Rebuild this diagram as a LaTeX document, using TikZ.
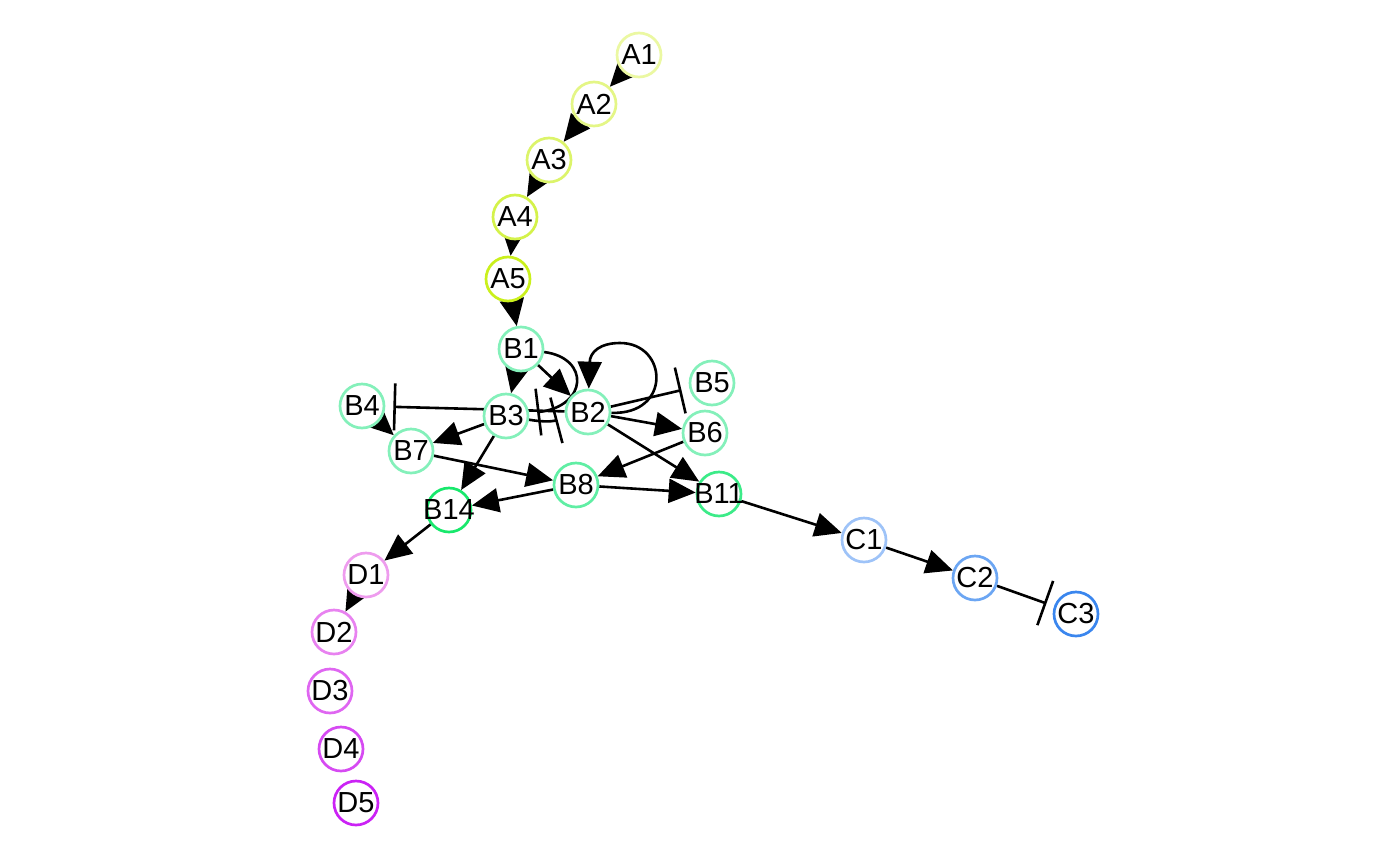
\documentclass[tikz,border=0pt]{standalone}
\usepackage{fontspec}
\setmainfont{Liberation Sans}
\usetikzlibrary{arrows.meta,backgrounds}

\definecolor{cA1}{HTML}{EBF8A2}
\definecolor{cA2}{HTML}{E4F686}
\definecolor{cA3}{HTML}{DCF46A}
\definecolor{cA4}{HTML}{D4F24A}
\definecolor{cA5}{HTML}{CAF01C}
\definecolor{cB}{HTML}{84F0BA}
\definecolor{cB8}{HTML}{60EEA4}
\definecolor{cB11}{HTML}{3CEB88}
\definecolor{cB14}{HTML}{18E86C}
\definecolor{cC1}{HTML}{9EC3F8}
\definecolor{cC2}{HTML}{6CA6F3}
\definecolor{cC3}{HTML}{3A86EE}
\definecolor{cD1}{HTML}{EE9CEE}
\definecolor{cD2}{HTML}{E882F0}
\definecolor{cD3}{HTML}{DF66F1}
\definecolor{cD4}{HTML}{D64AF2}
\definecolor{cD5}{HTML}{CB22F5}

\tikzset{
  gene/.style={circle, draw=#1, fill=white, line width=2.7pt,
    minimum size=44pt, inner sep=0pt},
  every label/.style={font=\fontsize{29}{31}\selectfont, inner sep=0pt},
  act/.style={line width=2.6pt, -{Triangle[length=27pt,width=24pt]}},
  inh/.style={line width=2.6pt, -{Bar[width=47pt]}, shorten >=8pt},
}

\begin{document}
\begin{tikzpicture}[x=1pt,y=-1pt]
  \useasboundingbox (0,0) rectangle (1400,865);

  % module A
  \node[gene=cA1, label=center:A1] (A1) at (639,55) {};
  \node[gene=cA2, label=center:A2] (A2) at (594,104) {};
  \node[gene=cA3, label=center:A3] (A3) at (549,160) {};
  \node[gene=cA4, label=center:A4] (A4) at (515,217) {};
  \node[gene=cA5, label=center:A5] (A5) at (508,279) {};

  % module B
  \node[gene=cB, label=center:B1] (B1) at (521,349) {};
  \node[gene=cB, label=center:B2] (B2) at (588,412) {};
  \node[gene=cB, label=center:B3] (B3) at (506,416) {};
  \node[gene=cB, label=center:B4] (B4) at (362,406) {};
  \node[gene=cB, label=center:B5] (B5) at (712,383) {};
  \node[gene=cB, label=center:B6] (B6) at (705,433) {};
  \node[gene=cB, label=center:B7] (B7) at (411,451) {};
  \node[gene=cB8, label=center:B8] (B8) at (576,485) {};
  \node[gene=cB11, label=center:B11] (B11) at (719,494) {};
  \node[gene=cB14, label=center:B14] (B14) at (449,510) {};

  % module C
  \node[gene=cC1, label=center:C1] (C1) at (864,540) {};
  \node[gene=cC2, label=center:C2] (C2) at (975,578) {};
  \node[gene=cC3, label=center:C3] (C3) at (1076,614) {};

  % module D
  \node[gene=cD1, label=center:D1] (D1) at (366,575) {};
  \node[gene=cD2, label=center:D2] (D2) at (334,632) {};
  \node[gene=cD3, label=center:D3] (D3) at (330,691) {};
  \node[gene=cD4, label=center:D4] (D4) at (341,749) {};
  \node[gene=cD5, label=center:D5] (D5) at (356,803) {};

  \begin{pgfonlayer}{background}
    \draw[act] (A1) -- (A2);
    \draw[act] (A2) -- (A3);
    \draw[act] (A3) -- (A4);
    \draw[act] (A4) -- (A5);
    \draw[act] (A5) -- (B1);

    \draw[act] (B1) -- (B2);
    \draw[act] (B1) -- (B3);
    \draw[inh] (B1) .. controls (590,358) and (588,406) .. (B3);
    \draw[inh] (B3) to[bend right=12] (B2);
    \draw[act] (B2) .. controls (672,415) and (668,343) .. (620,343)
                    .. controls (600,343) and (590,352) .. (B2);
    \draw[inh] (B2) -- (B4);
    \draw[inh] (B2) -- (B5);
    \draw[act] (B2) -- (B6);
    \draw[act] (B2) -- (B11);
    \draw[act] (B3) -- (B7);
    \draw[act] (B3) -- (B14);
    \draw[act] (B4) -- (B7);
    \draw[act] (B7) -- (B8);
    \draw[act] (B6) -- (B8);
    \draw[act] (B8) -- (B11);
    \draw[act] (B8) -- (B14);

    \draw[act] (B11) -- (C1);
    \draw[act] (C1) -- (C2);
    \draw[inh] (C2) -- (C3);

    \draw[act] (B14) -- (D1);
    \draw[act] (D1) -- (D2);
  \end{pgfonlayer}
\end{tikzpicture}
\end{document}
